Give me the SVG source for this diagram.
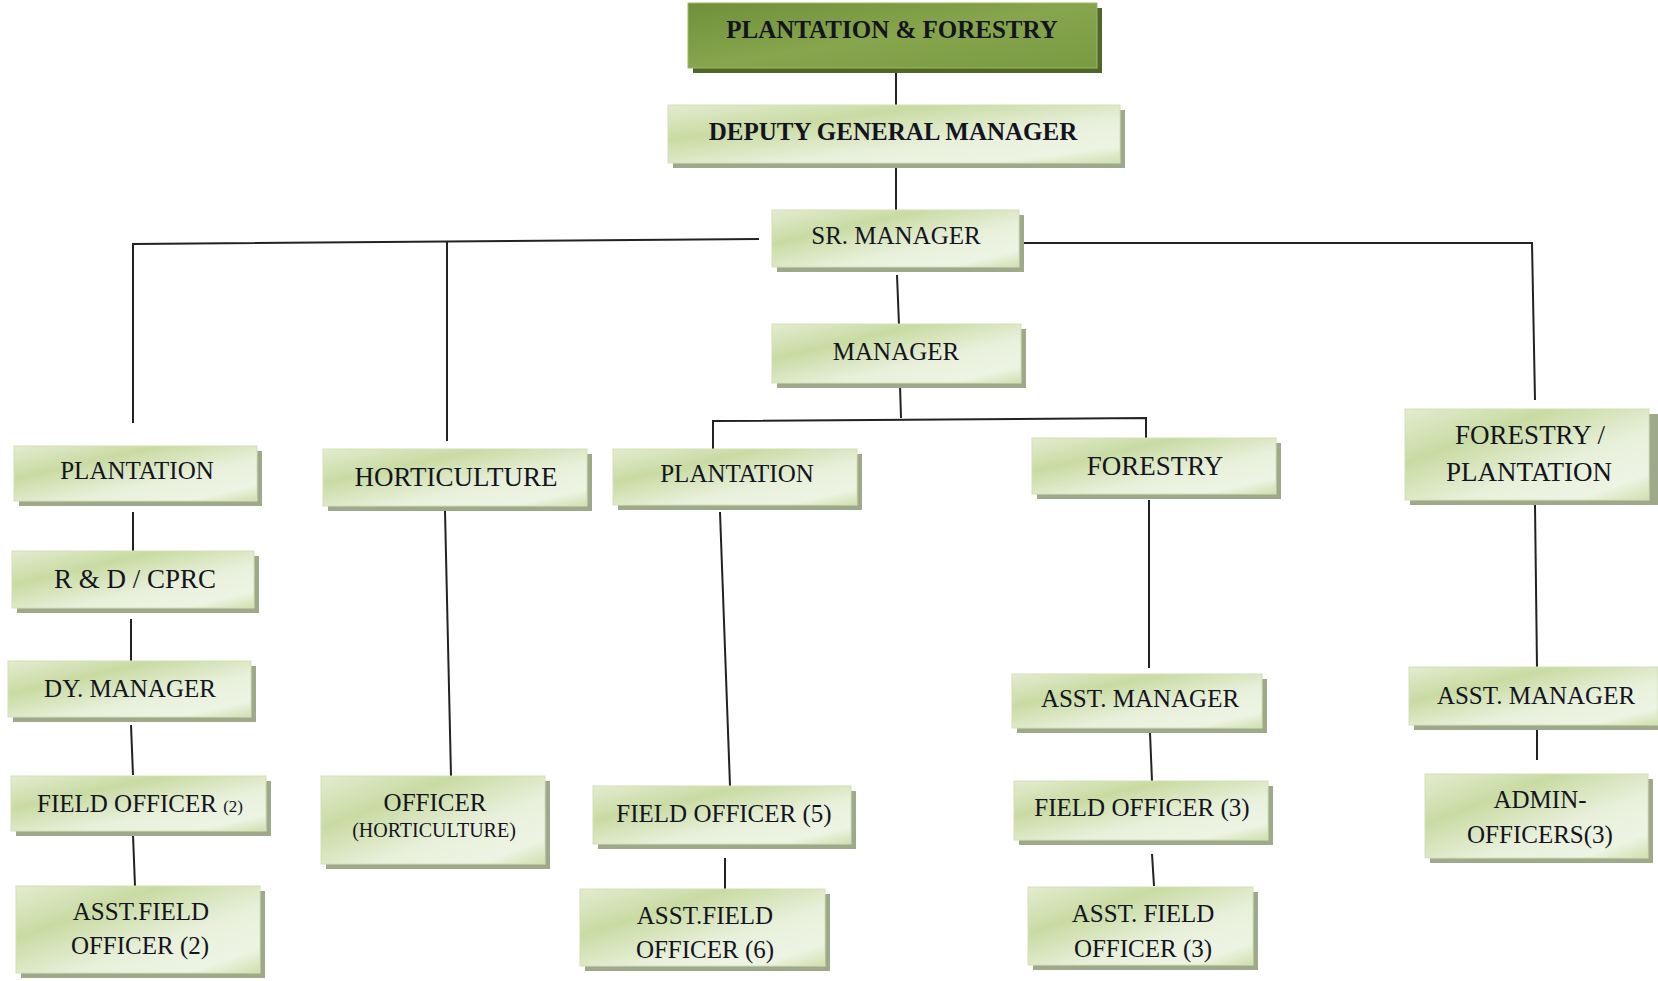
<svg xmlns="http://www.w3.org/2000/svg" width="1658" height="981" viewBox="0 0 1658 981">
<style>
.sh{fill:#9ea88a}
.bx{fill:url(#lg);stroke:#d3e0b6;stroke-width:1}
.top{fill:url(#dg);stroke:#9cb868;stroke-width:1}
.tsh{fill:#4f6628}
text{font-family:"Liberation Serif","Times New Roman",serif;fill:#141420;text-anchor:middle}
.t{font-size:25px}
.tb{font-size:25px;font-weight:bold}
.tl{font-size:27px}
.ts{font-size:17px}
.tm{font-size:20px}
.c line,.c polyline{stroke:#222;stroke-width:2;fill:none}
</style>
<defs>
<linearGradient id="lg" x1="0" y1="0" x2="1" y2="1">
<stop offset="0" stop-color="#e3ecd1"/>
<stop offset="0.3" stop-color="#c9dba3"/>
<stop offset="0.62" stop-color="#e8f0db"/>
<stop offset="0.85" stop-color="#eef4e4"/>
<stop offset="1" stop-color="#cfdfae"/>
</linearGradient>
<linearGradient id="dg" x1="0" y1="0" x2="1" y2="1">
<stop offset="0" stop-color="#6f8f3a"/>
<stop offset="0.5" stop-color="#86a54c"/>
<stop offset="1" stop-color="#7a9a42"/>
</linearGradient>
</defs>
<g class="c" id="connectors">
<line x1="896" y1="72" x2="896" y2="105"/>
<line x1="896" y1="166" x2="896" y2="210"/>
<polyline points="759,239 133,244 133,423"/>
<line x1="447" y1="242" x2="447" y2="441"/>
<polyline points="1020,243 1532,243 1535,400"/>
<line x1="897" y1="275" x2="899" y2="325"/>
<line x1="900" y1="385" x2="901" y2="418"/>
<polyline points="713,449 713,421 1146,418 1146,444"/>
<line x1="133" y1="512" x2="133" y2="551"/>
<line x1="131" y1="619" x2="131" y2="661"/>
<line x1="131" y1="725" x2="133" y2="775"/>
<line x1="133" y1="835" x2="135" y2="886"/>
<line x1="445" y1="511" x2="451" y2="776"/>
<line x1="720" y1="512" x2="730" y2="786"/>
<line x1="725" y1="858" x2="725" y2="889"/>
<line x1="1149" y1="500" x2="1149" y2="668"/>
<line x1="1150" y1="733" x2="1152" y2="781"/>
<line x1="1152" y1="854" x2="1154" y2="886"/>
<line x1="1535" y1="505" x2="1537" y2="667"/>
<line x1="1537" y1="730" x2="1537" y2="760"/>
</g>
<g id="n-top"><rect class="tsh" x="693" y="8" width="409" height="65"/><rect class="top" x="688" y="3" width="409" height="65"/><text class="tb" x="892" y="38">PLANTATION &amp; FORESTRY</text></g>
<g id="n-dgm"><rect class="sh" x="673" y="110" width="452" height="58"/><rect class="bx" x="668" y="105" width="452" height="58"/><text class="tb" x="893" y="140">DEPUTY GENERAL MANAGER</text></g>
<g id="n-sr"><rect class="sh" x="777" y="215" width="247" height="57"/><rect class="bx" x="772" y="210" width="247" height="57"/><text class="t" x="896" y="244">SR. MANAGER</text></g>
<g id="n-mgr"><rect class="sh" x="777" y="329" width="249" height="59"/><rect class="bx" x="772" y="324" width="249" height="59"/><text class="t" x="896" y="360">MANAGER</text></g>

<g id="n-plant-l"><rect class="sh" x="19" y="451" width="243" height="55"/><rect class="bx" x="14" y="446" width="243" height="55"/><text class="t" x="137" y="479">PLANTATION</text></g>
<g id="n-rd"><rect class="sh" x="17" y="556" width="242" height="57"/><rect class="bx" x="12" y="551" width="242" height="57"/><text class="tl" x="135" y="588">R &amp; D / CPRC</text></g>
<g id="n-dy"><rect class="sh" x="13" y="666" width="243" height="56"/><rect class="bx" x="8" y="661" width="243" height="56"/><text class="t" x="130" y="697">DY. MANAGER</text></g>
<g id="n-fo2"><rect class="sh" x="16" y="781" width="255" height="55"/><rect class="bx" x="11" y="776" width="255" height="55"/><text class="t" x="140" y="812">FIELD OFFICER <tspan class="ts">(2)</tspan></text></g>
<g id="n-afo2"><rect class="sh" x="21" y="891" width="244" height="87"/><rect class="bx" x="16" y="886" width="244" height="87"/><text class="t" x="141" y="920">ASST.FIELD</text><text class="t" x="140" y="954">OFFICER (2)</text></g>

<g id="n-hort"><rect class="sh" x="328" y="454" width="264" height="57"/><rect class="bx" x="323" y="449" width="264" height="57"/><text class="tl" x="456" y="486">HORTICULTURE</text></g>
<g id="n-ohort"><rect class="sh" x="326" y="781" width="224" height="88"/><rect class="bx" x="321" y="776" width="224" height="88"/><text class="t" x="435" y="811">OFFICER</text><text class="tm" x="434" y="837">(HORTICULTURE)</text></g>

<g id="n-plant-m"><rect class="sh" x="618" y="454" width="244" height="56"/><rect class="bx" x="613" y="449" width="244" height="56"/><text class="t" x="737" y="482">PLANTATION</text></g>
<g id="n-fo5"><rect class="sh" x="598" y="791" width="258" height="58"/><rect class="bx" x="593" y="786" width="258" height="58"/><text class="t" x="724" y="822">FIELD OFFICER (5)</text></g>
<g id="n-afo6"><rect class="sh" x="585" y="894" width="245" height="77"/><rect class="bx" x="580" y="889" width="245" height="77"/><text class="t" x="705" y="924">ASST.FIELD</text><text class="t" x="705" y="958">OFFICER (6)</text></g>

<g id="n-forestry"><rect class="sh" x="1037" y="443" width="244" height="56"/><rect class="bx" x="1032" y="438" width="244" height="56"/><text class="tl" x="1155" y="475">FORESTRY</text></g>
<g id="n-am-f"><rect class="sh" x="1017" y="679" width="250" height="54"/><rect class="bx" x="1012" y="674" width="250" height="54"/><text class="t" x="1140" y="707">ASST. MANAGER</text></g>
<g id="n-fo3"><rect class="sh" x="1019" y="786" width="254" height="59"/><rect class="bx" x="1014" y="781" width="254" height="59"/><text class="t" x="1142" y="816">FIELD OFFICER (3)</text></g>
<g id="n-afo3"><rect class="sh" x="1033" y="892" width="225" height="78"/><rect class="bx" x="1028" y="887" width="225" height="78"/><text class="t" x="1143" y="922">ASST. FIELD</text><text class="t" x="1143" y="957">OFFICER (3)</text></g>

<g id="n-fp"><rect class="sh" x="1410" y="414" width="248" height="91"/><rect class="bx" x="1405" y="409" width="244" height="91"/><text class="tl" x="1530" y="444">FORESTRY /</text><text class="tl" x="1529" y="481">PLANTATION</text></g>
<g id="n-am-r"><rect class="sh" x="1414" y="672" width="244" height="58"/><rect class="bx" x="1409" y="667" width="249" height="58"/><text class="t" x="1536" y="704">ASST. MANAGER</text></g>
<g id="n-admin"><rect class="sh" x="1430" y="779" width="223" height="84"/><rect class="bx" x="1425" y="774" width="223" height="84"/><text class="t" x="1540" y="808">ADMIN-</text><text class="t" x="1540" y="843">OFFICERS(3)</text></g>
</svg>
